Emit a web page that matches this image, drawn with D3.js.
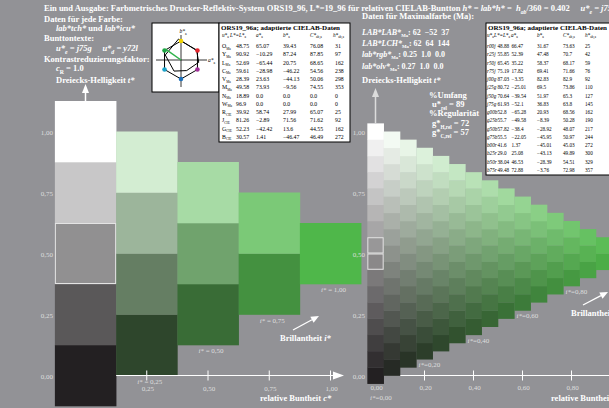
<!DOCTYPE html>
<html>
<head>
<meta charset="utf-8">
<script src="https://cdn.jsdelivr.net/npm/d3@7"></script>
<style>
  body { margin: 0; background: #929296; }
  svg { display: block; font-family: "Liberation Serif", "Times New Roman", serif; }
  text { white-space: pre; }
</style>
</head>
<body>
<div id="chart"></div>
<script>
// ---- data ----
const leftChroma = [0, 0.25, 0.5, 0.75, 1.0];
const leftStep = 0.25;
const leftYTicks = [0, 0.25, 0.5, 0.75, 1.0];
const leftXTicks = [0.25, 0.5, 0.75, 1.0];
const leftILabels = [0.25, 0.5, 0.75, 1.0];

const rightLevels = 15; // 16 steps from 0 to 1
const rightYTicks = [0, 0.25, 0.5, 0.75, 1.0];
const rightXTicks = [0, 0.2, 0.4, 0.6, 0.8];
const rightILabels = [0.2, 0.4, 0.6, 0.8];

const anchorBlack = "#232022";
const anchorWhite = "#ffffff";
const anchorMax = "#4fb74a";

const maNames = ["O", "Y", "L", "C", "V", "M", "N", "W", "R", "J", "G", "B"];
const maSub = ["Ma", "Ma", "Ma", "Ma", "Ma", "Ma", "Ma", "Ma", "CIE", "CIE", "CIE", "CIE"];
const maL = ["48.75", "90.92", "52.69", "59.61", "28.39", "49.58", "18.89", "96.9", "39.92", "81.26", "52.23", "30.57"];
const maA = ["65.07", "−10.29", "−65.44", "−28.98", "23.63", "73.93", "0.0", "0.0", "58.74", "−2.89", "−42.42", "1.41"];
const maB = ["39.43", "87.24", "20.75", "−46.22", "−44.13", "−9.56", "0.0", "0.0", "27.99", "71.56", "13.6", "−46.47"];
const maC = ["76.08", "87.85", "68.65", "54.56", "50.06", "74.55", "0.0", "0.0", "65.07", "71.62", "44.55", "46.49"];
const maH = ["31", "97", "162", "238", "298", "353", "0", "0", "25", "92", "162", "272"];

const huNames = ["r00j", "r25j", "r50j", "r75j", "j00g", "j25g", "j50g", "j75g", "g00b", "g25b", "g50b", "g75b", "b00r", "b25r", "b50r", "b75r"];
const huL = ["48.88", "55.85", "65.45", "75.19", "87.03", "80.72", "70.64", "61.93", "52.8", "55.7", "57.82", "55.5", "41.6", "29.0", "38.04", "49.48"];
const huA = ["66.47", "52.39", "35.22", "17.82", "−3.35", "−25.01", "−39.54", "−52.1", "−65.28", "−49.58", "−38.4", "−22.05", "1.37", "25.08", "46.53", "72.88"];
const huB = ["31.67", "47.48", "58.37", "69.41", "82.83", "69.5", "51.97", "36.83", "20.93", "−8.39", "−28.92", "−45.95", "−45.01", "−43.13", "−28.39", "−3.76"];
const huC = ["73.63", "70.7", "68.17", "71.66", "82.9", "73.86", "65.3", "63.8", "68.56", "50.28", "48.07", "50.97", "45.03", "49.89", "54.51", "72.98"];
const huH = ["25", "42", "59", "76", "92", "110", "127", "145", "162", "190", "217", "244", "272", "300", "329", "357"];

const hexHues = [30, 90, 150, 210, 270, 330];
const hexColors = ["#e3262e", "#f2d500", "#1ea543", "#1ca3c9", "#1d6fb8", "#a13199"];
const hueCurrent = 0.402 * 360;

// ---- setup ----
const width = 609, height = 408;
const svg = d3.select("#chart").append("svg").attr("width", width).attr("height", height);
svg.append("rect").attr("width", width).attr("height", height).attr("fill", "#929296");

const tickFill = "#dedede";

function rich(g, x, y, parts, size, opts) {
  opts = opts || {};
  const t = g.append("text").attr("x", x).attr("y", y)
    .attr("font-size", size)
    .attr("font-weight", opts.weight || "bold")
    .attr("fill", opts.fill || "#fff");
  if (opts.anchor) t.attr("text-anchor", opts.anchor);
  let shift = 0;
  parts.forEach((p) => {
    const txt = typeof p === "string" ? p : p[0];
    const st = typeof p === "string" ? "" : p[1];
    const s = t.append("tspan").text(txt);
    const want = st.includes("s") ? size * 0.3 : 0;
    if (want !== shift) { s.attr("dy", want - shift); shift = want; }
    if (st.includes("i")) s.attr("font-style", "italic");
    if (st.includes("s")) s.attr("font-size", size * (opts.sub || 0.68));
  });
  return t;
}

function mix(c, t) {
  const w = t - c / 2, b = 1 - t - c / 2;
  const K = d3.rgb(anchorBlack), Wt = d3.rgb(anchorWhite), M = d3.rgb(anchorMax);
  return d3.rgb(c * M.r + w * Wt.r + b * K.r, c * M.g + w * Wt.g + b * K.g, c * M.b + w * Wt.b + b * K.b).toString();
}

const fmt = (v) => d3.format(".2f")(v).replace(".", ",");

// ---- header texts ----
const fs = 8.5;
rich(svg, 44, 11, ["Ein und Ausgabe: Farbmetrisches Drucker-Reflektiv-System ORS19_96, L*=19_96 für relativen CIELAB-Buntton ",
  ["h*", "i"], " = ", ["lab*h*", "i"], " =  ", ["h", "i"], ["ab", "is"], "/360 = 0.402     ", ["u*", "i"], ["e", "is"], [" = j75g", "i"]], fs);
rich(svg, 44, 22, ["Daten für jede Farbe:"], fs);
rich(svg, 56, 31, [["lab*tch*", "i"], " und ", ["lab*icu*", "i"]], fs);
rich(svg, 44, 41, ["Bunttontexte:"], fs);
rich(svg, 56, 51, [["u*", "i"], ["e", "is"], [" = j75g     u*", "i"], ["d", "is"], [" = y72l", "i"]], fs);
rich(svg, 44, 62, ["Kontrastreduzierungsfaktor:"], fs);
rich(svg, 56, 71, [["c", "i"], ["R", "s"], " = 1.0"], fs);
rich(svg, 56, 83, ["Dreiecks-Helligkeit ", ["t*", "i"]], fs);

rich(svg, 362, 19, ["Daten für Maximalfarbe (Ma):"], fs);
const fm = 8;
rich(svg, 362, 35, [["LAB*LAB*", "i"], ["Ma", "s"], ": 62  −52  37"], fm, { sub: 0.6 });
rich(svg, 362, 46, [["LAB*LCH*", "i"], ["Ma", "s"], ": 62  64  144"], fm, { sub: 0.6 });
rich(svg, 362, 57, [["lab*rgb*", "i"], ["Ma", "s"], ": 0.25  1.0  0.0"], fm, { sub: 0.6 });
rich(svg, 362, 69, [["lab*olv*", "i"], ["Ma", "s"], ": 0.27  1.0  0.0"], fm, { sub: 0.6 });
rich(svg, 362, 83, ["Dreiecks-Helligkeit ", ["t*", "i"]], fs);

rich(svg, 429, 98, ["%Umfang"], fs);
rich(svg, 432, 107, ["u*", ["rel", "s"], " = 89"], fs, { sub: 0.6 });
rich(svg, 429, 116, ["%Regularität"], fs);
rich(svg, 432, 126, ["g*", ["H,rel", "s"], " = 72"], fs, { sub: 0.6 });
rich(svg, 432, 135, ["g*", ["C,rel", "s"], " = 57"], fs, { sub: 0.6 });

// ---- hexagon icon ----
const icon = svg.append("g");
icon.append("rect").attr("x", 152).attr("y", 23).attr("width", 67).attr("height", 69)
  .attr("fill", "#fff").attr("stroke", "#000").attr("stroke-width", 1);
const hx = 181, hy = 60, hr = 19;
icon.append("line").attr("x1", 156).attr("x2", 207).attr("y1", hy).attr("y2", hy).attr("stroke", "#000").attr("stroke-width", 0.8);
icon.append("line").attr("x1", hx).attr("x2", hx).attr("y1", 35).attr("y2", 87).attr("stroke", "#000").attr("stroke-width", 0.8);
rich(icon, 208, 62, [["a*", "i"], ["a", "s"]], 5.5, { fill: "#000", weight: "normal" });
rich(icon, 183, 33, [["b*", "i"], ["a", "s"]], 5.5, { fill: "#000", weight: "normal", anchor: "middle" });
const hexPts = hexHues.map((h) => [hx + hr * Math.cos(h * Math.PI / 180), hy - hr * Math.sin(h * Math.PI / 180)]);
icon.append("path").attr("d", d3.line()(hexPts) + "Z").attr("fill", "none").attr("stroke", "#000").attr("stroke-width", 1);
const devScale = 0.24;
const devPts = [0, 1, 2, 3, 4, 5].map((i) => [hx + devScale * parseFloat(maA[i].replace("−", "-")), hy - devScale * parseFloat(maB[i].replace("−", "-"))]);
icon.append("path").attr("d", d3.line()(devPts) + "Z").attr("fill", "none").attr("stroke", "#000").attr("stroke-width", 1);
icon.append("line").attr("x1", hx).attr("y1", hy)
  .attr("x2", hx + hr * Math.cos(hueCurrent * Math.PI / 180))
  .attr("y2", hy - hr * Math.sin(hueCurrent * Math.PI / 180))
  .attr("stroke", "#2fb34a").attr("stroke-width", 1.5);
icon.selectAll("circle").data(hexPts).enter().append("circle")
  .attr("cx", (d) => d[0]).attr("cy", (d) => d[1]).attr("r", 2.3)
  .attr("fill", (d, i) => hexColors[i]);

// ---- tables ----
function drawTable(x0, y0, w, h, colX, headX, names, subs, cols, rs) {
  const g = svg.append("g");
  g.append("rect").attr("x", x0).attr("y", y0).attr("width", w).attr("height", h)
    .attr("fill", "#fff").attr("stroke", "#000").attr("stroke-width", 1);
  rich(g, x0 + 2, y0 + 7, ["ORS19_96a; adaptierte CIELAB-Daten"], 7, { fill: "#000" });
  const hs = 5.2;
  const heads = [[["u*", "i"], ["a", "s"]], [["L*=L*", "i"], ["a", "s"]], [["a*", "i"], ["a", "s"]], [["b*", "i"], ["a", "s"]], [["C*", "i"], ["ab,a", "s"]], [["h*", "i"], ["ab,a", "s"]]];
  heads.forEach((hd, i) => rich(g, headX[i], y0 + 13.5, hd, hs, { fill: "#000", weight: "normal" }));
  names.forEach((n, r) => {
    const y = y0 + 25 + r * 8.25;
    if (subs) rich(g, colX[0], y, [n, [subs[r], "s"]], rs, { fill: "#000", weight: "normal", sub: 0.6 });
    else rich(g, colX[0], y, [[n, "i"]], rs, { fill: "#000", weight: "normal" });
    cols.forEach((col, c) => rich(g, colX[c + 1], y, [col[r]], rs, { fill: "#000", weight: "normal" }));
  });
}
drawTable(219, 23, 131, 119, [222, 236, 256, 283, 310, 335], [222, 230, 256, 283, 310, 333], maNames, maSub, [maL, maA, maB, maC, maH], 5.8);
drawTable(486, 23, 140, 152, [487, 497.5, 511.5, 537, 563, 585], [487, 494, 511, 537, 563, 585], huNames, null, [huL, huA, huB, huC, huH], 5.2);

// ---- left chart ----
const xL = d3.scaleLinear().domain([0, 1]).range([85.5, 330.5]);
const yL = d3.scaleLinear().domain([0, 1]).range([375.5, 131.5]);
const leftCells = leftChroma.flatMap((c) =>
  d3.range(0, Math.round((1 - c) / leftStep) + 1).map((j) => ({ c, t: c / 2 + j * leftStep })));
const cw = xL(leftStep) - xL(0), ch = yL(0) - yL(leftStep);
const gl = svg.append("g");
gl.selectAll("rect.cell").data(leftCells).enter().append("rect").attr("class", "cell")
  .attr("x", (d) => xL(d.c) - cw / 2).attr("y", (d) => yL(d.t) - ch / 2)
  .attr("width", cw + 0.3).attr("height", ch + 0.3)
  .attr("fill", (d) => mix(d.c, d.t));
gl.selectAll("rect.mark").data(leftCells.filter((d) => d.c === 0 && Math.abs(d.t - 0.5) < 0.01)).enter()
  .append("rect").attr("x", (d) => xL(d.c) - cw / 2 + 0.5).attr("y", (d) => yL(d.t) - ch / 2 + 0.5)
  .attr("width", cw - 1).attr("height", ch - 1).attr("fill", "none").attr("stroke", "#e4e4e4").attr("stroke-width", 1);

// y labels
gl.selectAll("text.yt").data(leftYTicks).enter().append("text")
  .attr("x", 53).attr("y", (d) => yL(d) + 3).attr("text-anchor", "end")
  .attr("font-size", 7).attr("fill", tickFill).text(fmt);
// x axis
gl.append("line").attr("x1", xL(leftStep / 2)).attr("x2", 334).attr("y1", yL(0)).attr("y2", yL(0))
  .attr("stroke", "#fff").attr("stroke-width", 1.2);
gl.append("path").attr("d", `M333,${yL(0) - 4}L344,${yL(0)}L333,${yL(0) + 4}Z`).attr("fill", "#fff");
gl.selectAll("line.xt").data(leftXTicks).enter().append("line")
  .attr("x1", (d) => xL(d)).attr("x2", (d) => xL(d)).attr("y1", yL(0) - 5).attr("y2", yL(0) + 5)
  .attr("stroke", "#fff").attr("stroke-width", 1);
gl.selectAll("text.xt").data(leftXTicks).enter().append("text")
  .attr("x", (d) => xL(d) + 1).attr("y", yL(0) + 15.5).attr("text-anchor", "middle")
  .attr("font-size", 7).attr("fill", tickFill).text(fmt);
gl.selectAll("text.il").data(leftILabels).enter().append("text")
  .attr("x", (d) => xL(d) + 3).attr("y", (d) => yL(d / 2 - leftStep / 2) + 8).attr("text-anchor", "middle")
  .attr("font-size", 7).attr("fill", tickFill)
  .each(function (d) {
    d3.select(this).append("tspan").attr("font-style", "italic").text("i*");
    d3.select(this).append("tspan").text(" = " + fmt(d));
  });
// up arrow
gl.append("line").attr("x1", xL(0)).attr("x2", xL(0)).attr("y1", yL(1 + leftStep / 2)).attr("y2", 90)
  .attr("stroke", "#fff").attr("stroke-width", 1.5);
gl.append("path").attr("d", `M${xL(0) - 3.5},${93}L${xL(0)},${84}L${xL(0) + 3.5},${93}Z`).attr("fill", "#fff");
// brillance arrow + labels
function arrow(g, x1, y1, x2, y2, col) {
  const a = Math.atan2(y2 - y1, x2 - x1), L = 8, Wd = 3.5;
  g.append("line").attr("x1", x1).attr("y1", y1).attr("x2", x2 - L * Math.cos(a)).attr("y2", y2 - L * Math.sin(a))
    .attr("stroke", col).attr("stroke-width", 1.3);
  const bx = x2 - L * Math.cos(a), by = y2 - L * Math.sin(a);
  g.append("path").attr("d", `M${x2},${y2}L${bx - Wd * Math.sin(a)},${by + Wd * Math.cos(a)}L${bx + Wd * Math.sin(a)},${by - Wd * Math.cos(a)}Z`)
    .attr("fill", col);
}
arrow(gl, 293, 330, 319, 316, "#fff");
rich(gl, 280, 341, ["Brillantheit ", ["i*", "i"]], 8.5);
rich(gl, 260, 401, ["relative Buntheit ", ["c*", "i"]], 8.5);

// ---- right chart ----
const step = 1 / rightLevels;
const xR = d3.scaleLinear().domain([0, 1]).range([375.5, 620.5]);
const yR = d3.scaleLinear().domain([0, 1]).range([375.5, 131.5]);
const rightCells = d3.range(0, rightLevels + 1).flatMap((k) =>
  d3.range(0, rightLevels - k + 1).map((j) => ({ c: k * step, t: k * step / 2 + j * step })));
const rw = xR(step) - xR(0), rh = yR(0) - yR(step);
const gr = svg.append("g");
gr.selectAll("text.yt").data(rightYTicks).enter().append("text")
  .attr("x", 365).attr("y", (d) => yR(d) + 3).attr("text-anchor", "end")
  .attr("font-size", 7).attr("fill", tickFill).text(fmt);
gr.append("line").attr("x1", xR(1.5 * step)).attr("x2", width).attr("y1", yR(0)).attr("y2", yR(0))
  .attr("stroke", "#fff").attr("stroke-width", 1.2);
gr.selectAll("rect.cell").data(rightCells).enter().append("rect").attr("class", "cell")
  .attr("x", (d) => xR(d.c) - rw / 2).attr("y", (d) => yR(d.t) - rh / 2)
  .attr("width", rw + 0.3).attr("height", rh + 0.3)
  .attr("fill", (d) => mix(d.c, d.t));
gr.selectAll("rect.mark").data(rightCells.filter((d) => d.c === 0 && Math.abs(d.t - 0.5) < 0.05)).enter()
  .append("rect").attr("x", (d) => xR(d.c) - rw / 2 + 0.5).attr("y", (d) => yR(d.t) - rh / 2 + 0.5)
  .attr("width", rw - 1).attr("height", rh - 1).attr("fill", "none").attr("stroke", "#e4e4e4").attr("stroke-width", 1);
gr.selectAll("line.xt").data(rightXTicks.filter((d) => d > 0)).enter().append("line")
  .attr("x1", (d) => xR(d)).attr("x2", (d) => xR(d)).attr("y1", yR(0) - 5).attr("y2", yR(0) + 5)
  .attr("stroke", "#fff").attr("stroke-width", 1);
gr.selectAll("text.xt").data(rightXTicks).enter().append("text")
  .attr("x", (d) => xR(d) + 1).attr("y", yR(0) + 14.5).attr("text-anchor", "middle")
  .attr("font-size", 7).attr("fill", tickFill).text(fmt);
gr.selectAll("text.il").data(rightILabels).enter().append("text")
  .attr("x", (d) => xR(d) - 6).attr("y", (d) => yR(d / 2 - step / 2) + 8)
  .attr("font-size", 7).attr("fill", tickFill)
  .each(function (d) {
    d3.select(this).append("tspan").attr("font-style", "italic").text("i*");
    d3.select(this).append("tspan").text("=" + fmt(d));
  });
gr.append("text").attr("x", 370).attr("y", 400).attr("font-size", 7).attr("fill", tickFill)
  .each(function () {
    d3.select(this).append("tspan").attr("font-style", "italic").text("i*");
    d3.select(this).append("tspan").text("=" + fmt(0));
  });
gr.append("line").attr("x1", xR(0)).attr("x2", xR(0)).attr("y1", yR(1 + step / 2)).attr("y2", 94)
  .attr("stroke", "#dcdcdc").attr("stroke-width", 1.5);
gr.append("path").attr("d", `M${xR(0) - 3.5},${97}L${xR(0)},${88}L${xR(0) + 3.5},${97}Z`).attr("fill", "#dcdcdc");
arrow(gr, 583, 305, 608, 292, "#fff");
rich(gr, 571, 316, ["Brillantheit ", ["i*", "i"]], 8.5);
rich(gr, 551, 401, ["relative Buntheit ", ["c*", "i"]], 8.5);
</script>
</body>
</html>
